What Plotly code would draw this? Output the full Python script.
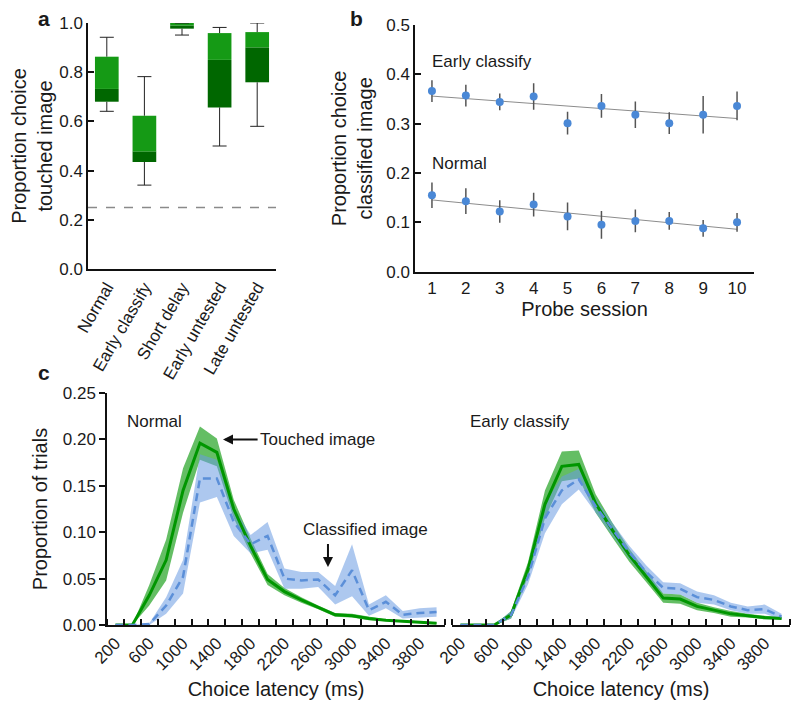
import numpy as np
import plotly.graph_objects as go

# panel a: proportion of choices on the touched image
conditions = ["Normal", "Early classify", "Short delay", "Early untested", "Late untested"]
box_min = [0.641, 0.341, 0.951, 0.500, 0.580]
box_q1 = [0.680, 0.435, 0.977, 0.657, 0.759]
box_med = [0.732, 0.478, 0.990, 0.850, 0.901]
box_q3 = [0.863, 0.623, 1.000, 0.959, 0.963]
box_max = [0.942, 0.782, 1.000, 0.982, 1.000]
chance = 0.25

# panel b: proportion choice classified image by probe session
sessions = [1, 2, 3, 4, 5, 6, 7, 8, 9, 10]
early_mean = [0.366, 0.357, 0.344, 0.355, 0.301, 0.336, 0.318, 0.301, 0.318, 0.336]
early_err = [0.022, 0.022, 0.017, 0.027, 0.023, 0.024, 0.027, 0.022, 0.038, 0.029]
normal_mean = [0.155, 0.143, 0.122, 0.136, 0.112, 0.095, 0.103, 0.103, 0.088, 0.100]
normal_err = [0.026, 0.026, 0.023, 0.024, 0.028, 0.028, 0.023, 0.018, 0.017, 0.019]

# panel c: latency distributions
latency = [200, 400, 600, 800, 1000, 1200, 1400, 1600, 1800, 2000,
           2200, 2400, 2600, 2800, 3000, 3200, 3400, 3600, 3800, 4000]
norm_touch = [0, 0, 0.032, 0.070, 0.145, 0.196, 0.186, 0.125, 0.085, 0.049,
              0.036, 0.027, 0.019, 0.011, 0.010, 0.007, 0.005, 0.004, 0.003, 0.002]
norm_touch_sem = [0, 0, 0.011, 0.022, 0.024, 0.018, 0.015, 0.010, 0.008, 0.006,
                  0.004, 0.003, 0.002, 0.002, 0.002, 0.002, 0.001, 0.001, 0.001, 0.001]
norm_class = [0, 0, 0.001, 0.021, 0.052, 0.158, 0.158, 0.111, 0.087, 0.096,
              0.050, 0.048, 0.049, 0.032, 0.059, 0.016, 0.025, 0.011, 0.013, 0.014]
norm_class_sem = [0, 0, 0.001, 0.009, 0.018, 0.026, 0.020, 0.015, 0.010, 0.015,
                  0.011, 0.009, 0.008, 0.010, 0.028, 0.006, 0.007, 0.004, 0.005, 0.005]
ec_touch = [0, 0, 0, 0.011, 0.060, 0.130, 0.171, 0.173, 0.131, 0.102,
            0.075, 0.052, 0.029, 0.028, 0.020, 0.016, 0.012, 0.010, 0.008, 0.007]
ec_touch_sem = [0, 0, 0, 0.004, 0.008, 0.015, 0.016, 0.015, 0.010, 0.008,
                0.007, 0.006, 0.005, 0.005, 0.004, 0.003, 0.003, 0.002, 0.002, 0.001]
ec_class = [0, 0, 0, 0.011, 0.052, 0.115, 0.145, 0.157, 0.128, 0.103,
            0.078, 0.057, 0.040, 0.039, 0.030, 0.027, 0.020, 0.016, 0.017, 0.009]
ec_class_sem = [0, 0, 0, 0.004, 0.008, 0.016, 0.015, 0.011, 0.008, 0.007,
                0.007, 0.007, 0.006, 0.006, 0.006, 0.005, 0.004, 0.004, 0.005, 0.003]

LIGHT_GREEN = "#159a15"
DARK_GREEN = "#006700"
LINE_GREEN = "#009600"
BAND_GREEN = "rgba(40,165,40,0.72)"
LINE_BLUE = "#5b8fd8"
BAND_BLUE = "rgba(105,155,225,0.55)"
DOT_BLUE = "#4a88d6"

# page body has an 8px margin, so the figure is a bit smaller than the window
W, H, OFF = 784, 692, 8
def px(p):
    return (p - OFF) / W
def py(p):
    return 1 - (p - OFF) / H

fig = go.Figure()

# ---- panel a
idx = list(range(len(conditions)))
fig.add_trace(go.Bar(x=idx, y=np.subtract(box_med, box_q1), base=box_q1, width=0.63,
                     marker=dict(color=DARK_GREEN, line=dict(width=0)), xaxis="x", yaxis="y"))
fig.add_trace(go.Bar(x=idx, y=np.subtract(box_q3, box_med), base=box_med, width=0.63,
                     marker=dict(color=LIGHT_GREEN, line=dict(width=0)), xaxis="x", yaxis="y"))
wx, wy = [], []
for i in idx:
    wx += [i, i, None, i, i, None]
    wy += [box_q3[i], box_max[i], None, box_q1[i], box_min[i], None]
fig.add_trace(go.Scatter(x=wx, y=wy, mode="lines", line=dict(color="#222", width=1),
                         xaxis="x", yaxis="y"))
fig.add_trace(go.Scatter(x=idx + idx, y=box_max + box_min, mode="markers",
                         marker=dict(symbol="line-ew", size=10, line=dict(color="#222", width=1)),
                         xaxis="x", yaxis="y"))
fig.add_trace(go.Scatter(x=[-0.5, 4.5], y=[chance, chance], mode="lines",
                         line=dict(color="#8a8a8a", width=1.5, dash="dash"), xaxis="x", yaxis="y"))

# ---- panel b
for mean, err in [(early_mean, early_err), (normal_mean, normal_err)]:
    slope, icpt = np.polyfit(sessions, mean, 1)
    ends = [sessions[0], sessions[-1]]
    fig.add_trace(go.Scatter(x=ends, y=[slope * s + icpt for s in ends], mode="lines",
                             line=dict(color="#8c8c8c", width=1), xaxis="x2", yaxis="y2"))
    fig.add_trace(go.Scatter(x=sessions, y=mean, mode="markers",
                             marker=dict(color=DOT_BLUE, size=8),
                             error_y=dict(type="data", array=err, color="#555", thickness=1.5, width=0),
                             xaxis="x2", yaxis="y2"))

# ---- panel c
def band(mean, sem):
    up = [m + s for m, s in zip(mean, sem)]
    lo = [max(m - s, 0) for m, s in zip(mean, sem)]
    return latency + latency[::-1], up + lo[::-1]

for xa, ya, touch, tsem, cls, csem in [("x3", "y3", norm_touch, norm_touch_sem, norm_class, norm_class_sem),
                                       ("x4", "y4", ec_touch, ec_touch_sem, ec_class, ec_class_sem)]:
    bx, by = band(touch, tsem)
    fig.add_trace(go.Scatter(x=bx, y=by, fill="toself", fillcolor=BAND_GREEN, line=dict(width=0),
                             mode="lines", xaxis=xa, yaxis=ya))
    bx, by = band(cls, csem)
    fig.add_trace(go.Scatter(x=bx, y=by, fill="toself", fillcolor=BAND_BLUE, line=dict(width=0),
                             mode="lines", xaxis=xa, yaxis=ya))
    fig.add_trace(go.Scatter(x=latency, y=touch, mode="lines", line=dict(color=LINE_GREEN, width=3),
                             xaxis=xa, yaxis=ya))
    fig.add_trace(go.Scatter(x=latency, y=cls, mode="lines",
                             line=dict(color=LINE_BLUE, width=2.5, dash="8px,5px"), xaxis=xa, yaxis=ya))

FONT = dict(family="Arial", size=17, color="#1a1a1a")
axline = dict(showline=True, linecolor="#111", linewidth=1.5, showgrid=False, zeroline=False,
              tickcolor="#111", tickwidth=1.5, automargin=False)

edges = [v - 100 for v in latency] + [latency[-1] + 100]
cx = dict(range=[edges[0], edges[-1]], tickvals=latency[::2], ticks="", tickangle=-45,
          minor=dict(tickvals=edges, ticks="inside", ticklen=6, tickcolor="#111", tickwidth=1.5),
          title=dict(text="Choice latency (ms)", standoff=10), **axline)

fig.update_layout(
    width=W, height=H, margin=dict(l=0, r=0, t=0, b=0, autoexpand=False),
    showlegend=False, plot_bgcolor="white", paper_bgcolor="white",
    font=FONT, barmode="overlay",
    xaxis=dict(domain=[px(88), px(276)], range=[-0.5, 4.5], tickvals=idx, ticktext=conditions,
               tickangle=-60, ticks="", anchor="y", **axline),
    yaxis=dict(domain=[py(269), py(23)], range=[0, 1], dtick=0.2, tickformat=".1f",
               ticks="inside", ticklen=6, anchor="x",
               title=dict(text="Proportion choice<br>touched image", standoff=8), **axline),
    xaxis2=dict(domain=[px(415), px(754)], range=[0.5, 10.5], dtick=1, ticks="", anchor="y2",
                title=dict(text="Probe session", standoff=4), **axline),
    yaxis2=dict(domain=[py(271.7), py(25)], range=[0, 0.5], dtick=0.1, tickformat=".1f",
                ticks="inside", ticklen=6, anchor="x2",
                title=dict(text="Proportion choice<br>classified image", standoff=8), **axline),
    xaxis3=dict(domain=[px(107), px(445)], anchor="y3", **cx),
    yaxis3=dict(domain=[py(625), py(393)], range=[0, 0.25], dtick=0.05, tickformat=".2f",
                ticks="outside", ticklen=6, anchor="x3",
                title=dict(text="Proportion of trials", standoff=10), **axline),
    xaxis4=dict(domain=[px(452), px(790)], anchor="y4", **cx),
    yaxis4=dict(domain=[py(625), py(393)], range=[0, 0.25], visible=False, anchor="x4"),
)

ann = [
    dict(text="<b>a</b>", x=px(36), y=py(19), xref="paper", yref="paper", font=dict(size=21)),
    dict(text="<b>b</b>", x=px(356), y=py(19), xref="paper", yref="paper", font=dict(size=21)),
    dict(text="<b>c</b>", x=px(36), y=py(372), xref="paper", yref="paper", font=dict(size=21)),
    dict(text="Early classify", x=0.93, y=0.425, xref="x2", yref="y2", xanchor="left"),
    dict(text="Normal", x=0.93, y=0.22, xref="x2", yref="y2", xanchor="left"),
    dict(text="Normal", x=313, y=0.219, xref="x3", yref="y3", xanchor="left"),
    dict(text="Early classify", x=289, y=0.219, xref="x4", yref="y4", xanchor="left"),
    dict(text="Touched image", x=1887, y=0.2, xref="x3", yref="y3", xanchor="left"),
    dict(text="Classified image", x=2396, y=0.103, xref="x3", yref="y3", xanchor="left"),
    dict(text="", x=1473, y=0.2, ax=1900, ay=0.2, xref="x3", yref="y3", axref="x3", ayref="y3",
         showarrow=True, arrowhead=2, arrowsize=1, arrowwidth=2, arrowcolor="#111"),
    dict(text="", x=2715, y=0.0625, ax=2715, ay=0.089, xref="x3", yref="y3", axref="x3", ayref="y3",
         showarrow=True, arrowhead=2, arrowsize=1, arrowwidth=2, arrowcolor="#111"),
]
for a in ann:
    a.setdefault("showarrow", False)
    a.setdefault("yanchor", "middle")
    fig.add_annotation(**a)

fig.write_html("out.html")
